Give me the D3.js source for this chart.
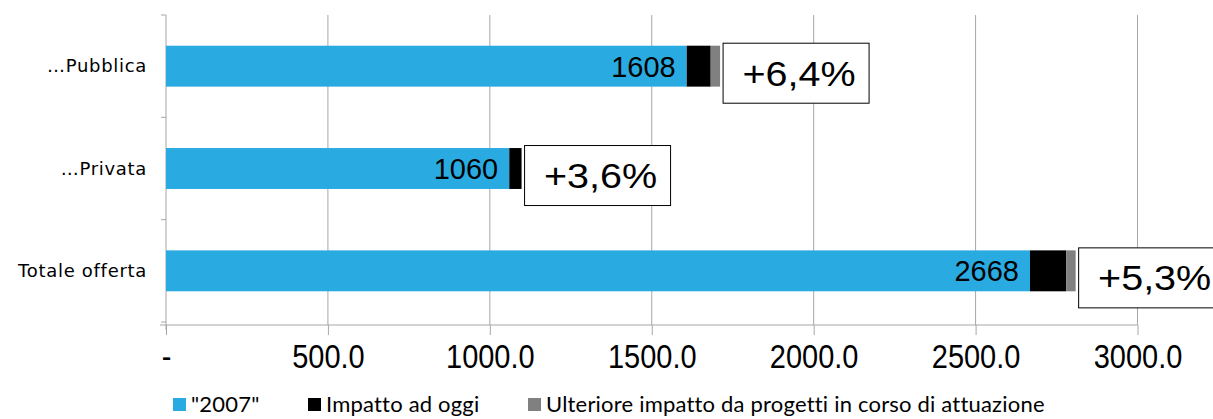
<!DOCTYPE html>
<html>
<head>
<meta charset="utf-8">
<script src="https://cdn.jsdelivr.net/npm/d3@7"></script>
<style>
  body { margin: 0; background: #fff; }
  svg { display: block; }
</style>
</head>
<body>
<div id="chart"></div>
<script>
/* categories, top to bottom */
const categories = ["…Pubblica", "…Privata", "Totale offerta"];

/* series values */
const base2007 = [1608, 1060, 2668];
const impattoOggi = [74, 38, 112];
const ulteriore = [29, 0, 29];

/* percentage call-outs */
const percentLabels = ["+6,4%", "+3,6%", "+5,3%"];

/* x ticks */
const xTicks = [0, 500, 1000, 1500, 2000, 2500, 3000];

const seriesNames = ['"2007"', "Impatto ad oggi", "Ulteriore impatto da progetti in corso di attuazione"];
const seriesColors = ["#29abe2", "#000000", "#808080"];

const width = 1213, height = 419;
const plotLeft = 166, plotRight = 1137.5, plotTop = 15, plotBottom = 322;

const svg = d3.select("#chart").append("svg")
  .attr("width", width)
  .attr("height", height);

const x = d3.scaleLinear().domain([0, 3000]).range([plotLeft, plotRight]);
const y = d3.scaleBand().domain(categories).range([plotTop, plotBottom]).paddingInner(0.6).paddingOuter(0.3);

/* gridlines */
svg.append("g")
  .selectAll("line")
  .data(xTicks.slice(1))
  .join("line")
    .attr("x1", d => x(d)).attr("x2", d => x(d))
    .attr("y1", plotTop).attr("y2", plotBottom + 3)
    .attr("stroke", "#a6a6a6")
    .attr("stroke-width", 1);

/* x axis */
const xAxis = svg.append("g")
  .attr("transform", "translate(0," + (plotBottom + 3) + ")")
  .call(d3.axisBottom(x).tickValues(xTicks).tickSize(10)
    .tickFormat(d => d === 0 ? "-" : d3.format(".1f")(d)));
xAxis.select(".domain").remove();
xAxis.append("line")
  .attr("x1", plotLeft - 6).attr("x2", plotRight)
  .attr("y1", 0).attr("y2", 0)
  .attr("stroke", "#a6a6a6");
xAxis.selectAll(".tick line").attr("stroke", "#a6a6a6");
xAxis.selectAll(".tick text")
  .attr("font-family", "Liberation Sans, Arial, sans-serif")
  .attr("font-size", 29)
  .attr("fill", "#000")
  .attr("y", 0)
  .attr("dy", 0)
  .attr("transform", "translate(0,43) scale(1,1.12)");

/* y axis */
const yAxisG = svg.append("g").attr("transform", "translate(" + plotLeft + ",0)");
yAxisG.append("line")
  .attr("x1", 0).attr("x2", 0)
  .attr("y1", plotTop).attr("y2", plotBottom + 8)
  .attr("stroke", "#a6a6a6");
const yTickPos = d3.range(categories.length + 1).map(i => plotTop + i * (plotBottom - plotTop) / categories.length);
yAxisG.selectAll(".ytick")
  .data(yTickPos)
  .join("line")
    .attr("class", "ytick")
    .attr("x1", -5).attr("x2", 0)
    .attr("y1", d => d).attr("y2", d => d)
    .attr("stroke", "#a6a6a6");
yAxisG.selectAll(".ylab")
  .data(categories)
  .join("text")
    .attr("class", "ylab")
    .attr("x", -19)
    .attr("y", d => y(d) + y.bandwidth() / 2)
    .attr("dy", "0.35em")
    .attr("text-anchor", "end")
    .attr("font-family", "DejaVu Sans, Verdana, sans-serif")
    .attr("font-size", 18)
    .attr("letter-spacing", 0.7)
    .attr("fill", "#000")
    .text(d => d);

/* stacked bars */
const rows = categories.map((c, i) => ({ cat: c, vals: [base2007[i], impattoOggi[i], ulteriore[i]] }));
const stack = d3.stack().keys([0, 1, 2]).value((d, k) => d.vals[k]);
const stacked = stack(rows);

svg.append("g")
  .selectAll("g")
  .data(stacked)
  .join("g")
    .attr("fill", (d, i) => seriesColors[i])
  .selectAll("rect")
  .data(d => d)
  .join("rect")
    .attr("x", d => x(d[0]))
    .attr("y", d => y(d.data.cat))
    .attr("width", d => x(d[1]) - x(d[0]))
    .attr("height", y.bandwidth());

/* value labels inside the blue segment */
svg.append("g")
  .selectAll("text")
  .data(rows)
  .join("text")
    .attr("x", d => x(d.vals[0]) - 11)
    .attr("y", d => y(d.cat) + y.bandwidth() / 2)
    .attr("dy", "0.36em")
    .attr("text-anchor", "end")
    .attr("font-family", "Liberation Sans, Arial, sans-serif")
    .attr("font-size", 29)
    .attr("fill", "#000")
    .text(d => d.vals[0]);

/* percentage boxes */
const boxW = 146, boxH = 60;
const boxes = svg.append("g")
  .selectAll("g")
  .data(rows)
  .join("g")
    .attr("transform", d => {
      const end = x(d.vals[0] + d.vals[1] + d.vals[2]);
      return "translate(" + (end + 3) + "," + (y(d.cat) - 2.5) + ")";
    });
boxes.append("rect")
  .attr("width", boxW).attr("height", boxH)
  .attr("fill", "#fff")
  .attr("stroke", "#000")
  .attr("stroke-width", 1);
boxes.append("text")
  .attr("transform", "translate(" + (boxW / 2 + 3) + "," + (boxH / 2) + ") scale(1.13,1)")
  .attr("dy", "0.36em")
  .attr("text-anchor", "middle")
  .attr("font-family", "Liberation Sans, Arial, sans-serif")
  .attr("font-size", 35)
  .attr("fill", "#000")
  .text((d, i) => percentLabels[i]);

/* legend */
const legendX = [173, 308, 528];
const legend = svg.append("g")
  .selectAll("g")
  .data(seriesNames)
  .join("g")
    .attr("transform", (d, i) => "translate(" + legendX[i] + ",398)");
legend.append("rect")
  .attr("width", 13).attr("height", 13)
  .attr("fill", (d, i) => seriesColors[i]);
legend.append("text")
  .attr("x", 18).attr("y", 6.5)
  .attr("dy", "0.34em")
  .attr("font-family", "Lato, Calibri, sans-serif")
  .attr("font-size", 22)
  .attr("letter-spacing", 0.2)
  .attr("fill", "#000")
  .text(d => d);
</script>
</body>
</html>
